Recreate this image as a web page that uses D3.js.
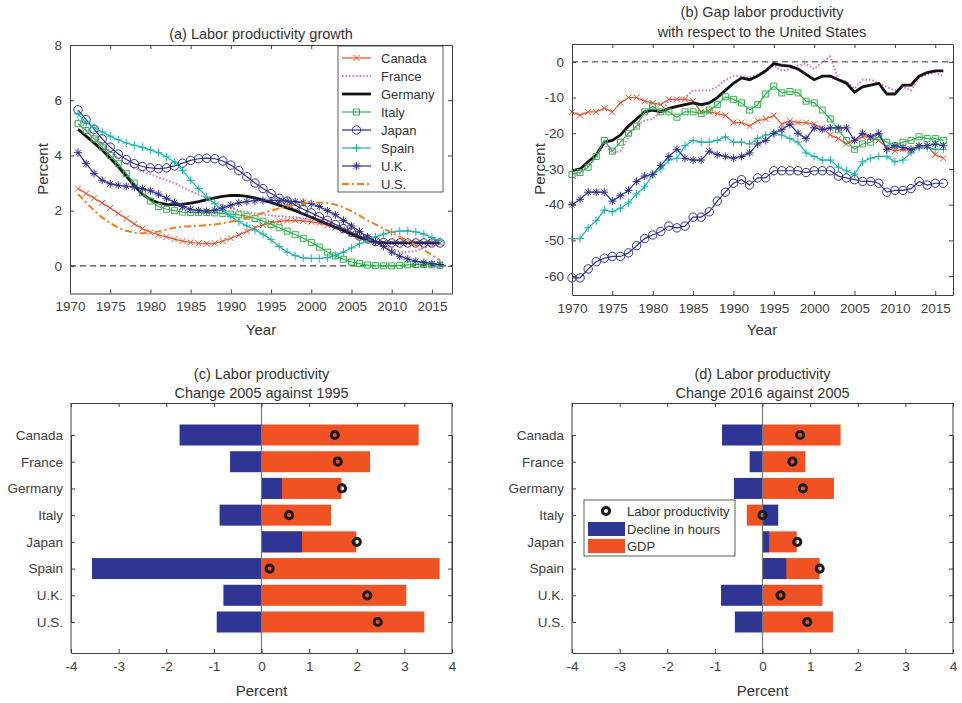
<!DOCTYPE html>
<html><head><meta charset="utf-8">
<script src="https://cdn.jsdelivr.net/npm/d3@7"></script>
<style>
body{margin:0;background:#fff;font-family:"Liberation Sans",Arial,sans-serif;}
text{font-family:"Liberation Sans",Arial,sans-serif;fill:#333;}
.tick text{font-size:13.5px;fill:#404040;}
.domain,.tick line{stroke:#404040;}
</style></head>
<body><svg id="c" width="962" height="703"></svg>
<script>
// ---- data ----
const years71 = d3.range(1971, 2017);
const years70 = d3.range(1970, 2017);
const countries = ["Canada","France","Germany","Italy","Japan","Spain","U.K.","U.S."];

// (a) labor productivity growth, 1971-2016
const growthCanada = [2.8,2.62,2.45,2.28,2.1,1.9,1.72,1.52,1.35,1.22,1.12,1.05,0.97,0.9,0.85,0.82,0.8,0.82,0.9,1.0,1.12,1.25,1.38,1.48,1.56,1.61,1.64,1.65,1.63,1.6,1.55,1.47,1.38,1.28,1.17,1.06,0.96,0.89,0.85,0.83,0.83,0.83,0.83,0.83,0.83,0.83];
const growthFrance = [5.3,5.0,4.7,4.4,4.15,3.9,3.7,3.55,3.42,3.32,3.2,3.1,3.0,2.85,2.7,2.58,2.45,2.32,2.2,2.1,2.0,1.95,1.9,1.86,1.83,1.8,1.78,1.76,1.73,1.7,1.65,1.58,1.5,1.4,1.28,1.15,1.0,0.85,0.72,0.6,0.52,0.5,0.55,0.65,0.75,0.85];
const growthGermany = [4.95,4.7,4.45,4.2,3.9,3.6,3.25,2.9,2.6,2.4,2.28,2.23,2.22,2.23,2.27,2.33,2.4,2.46,2.52,2.55,2.55,2.52,2.46,2.38,2.3,2.2,2.1,2.0,1.88,1.76,1.64,1.52,1.4,1.28,1.15,1.03,0.93,0.86,0.84,0.83,0.83,0.83,0.83,0.83,0.83,0.83];
const growthItaly = [5.15,4.9,4.6,4.3,4.0,3.7,3.35,3.0,2.65,2.35,2.15,2.05,2.0,1.95,1.93,1.93,1.93,1.92,1.9,1.88,1.85,1.8,1.72,1.62,1.5,1.38,1.26,1.13,1.0,0.85,0.68,0.5,0.36,0.24,0.14,0.08,0.03,0.01,0.0,0.0,0.02,0.04,0.05,0.05,0.04,0.02];
const growthJapan = [5.65,5.3,4.95,4.6,4.3,4.05,3.85,3.7,3.6,3.55,3.52,3.55,3.62,3.72,3.82,3.88,3.9,3.88,3.8,3.65,3.45,3.23,3.0,2.8,2.62,2.45,2.35,2.2,2.05,1.92,1.78,1.65,1.5,1.35,1.22,1.08,0.97,0.88,0.84,0.83,0.83,0.83,0.83,0.83,0.83,0.83];
const growthSpain = [5.5,5.2,5.0,4.85,4.7,4.57,4.45,4.37,4.3,4.2,4.1,3.95,3.75,3.45,3.1,2.8,2.5,2.25,2.0,1.8,1.6,1.45,1.3,1.15,0.95,0.7,0.5,0.37,0.29,0.27,0.27,0.3,0.38,0.5,0.65,0.8,0.93,1.05,1.15,1.22,1.26,1.27,1.23,1.15,1.03,0.9];
const growthUK = [4.1,3.7,3.35,3.1,2.97,2.92,2.88,2.85,2.8,2.72,2.6,2.45,2.3,2.15,2.05,2.0,1.98,2.02,2.1,2.2,2.28,2.33,2.36,2.37,2.37,2.36,2.35,2.33,2.3,2.25,2.15,2.0,1.85,1.65,1.45,1.25,1.05,0.88,0.7,0.5,0.35,0.25,0.17,0.12,0.08,0.05];
const growthUS = [2.6,2.3,2.0,1.75,1.55,1.38,1.27,1.2,1.18,1.2,1.25,1.32,1.38,1.42,1.44,1.45,1.47,1.5,1.55,1.6,1.67,1.75,1.83,1.92,2.0,2.08,2.15,2.22,2.27,2.3,2.3,2.28,2.22,2.12,1.98,1.82,1.65,1.5,1.35,1.2,1.05,0.9,0.75,0.58,0.4,0.2];

// (b) gap with respect to the U.S., 1970-2016
const gapCanada = [-14,-15,-14,-14,-13,-14,-11.5,-10,-10,-11,-11.5,-12,-10.5,-10.5,-10.5,-11,-14,-14,-14.5,-15,-17,-17,-18,-16.5,-16,-15,-17.5,-16.5,-17,-17,-17.5,-18.5,-20.5,-21.5,-23,-22,-21,-21,-22,-24,-25,-24.5,-25,-23.5,-23.5,-26,-27];
const gapFrance = [-33.5,-31,-29,-27,-23,-25.5,-25,-21,-18,-16.5,-16,-14,-11,-10.5,-10,-8,-8,-8,-7,-5,-4,-4,-4.5,-3.5,-2.5,-1,-2.5,-2,-1,-0.5,-2,0,1.5,-5,-5.5,-7.5,-5,-5,-6,-7,-8,-7,-8,-4.5,-3.5,-3,-4];
const gapGermany = [-30.5,-30,-28,-26,-22.5,-22,-20.5,-18,-16,-14,-13.5,-14,-13,-12.5,-12,-11.5,-12,-11.5,-10,-8,-6,-4.5,-5,-4,-2.5,-0.5,-1,-1.2,-2,-3.5,-5,-4,-4,-5,-6,-8.5,-7,-6.5,-6,-9,-9,-6.5,-6.5,-4,-3,-2.5,-2.5];
const gapItaly = [-31.5,-31,-29.5,-26.5,-22,-25,-22.5,-20,-18,-14,-12.5,-14,-14,-15.5,-14,-14,-14.5,-13.5,-12,-9.8,-10.5,-11.5,-13.5,-12,-9,-6.8,-8.7,-8.3,-8.7,-11,-11.5,-13.5,-16,-19,-22,-24.5,-23,-22.5,-21,-22.5,-23.5,-22.5,-22,-21,-21.5,-21.5,-22];
const gapJapan = [-60.5,-60.5,-58,-56,-55,-54.5,-54.5,-53.5,-51.5,-49.5,-48.5,-47.5,-46,-46.5,-46,-43.5,-43.5,-42,-39,-36.5,-34,-33,-34.5,-32.5,-32.5,-30.5,-30.5,-30.5,-30.5,-31,-30.5,-30.5,-30.5,-32,-32.5,-33,-33.5,-33.5,-34,-36.5,-36,-36,-35.5,-33.5,-34.5,-34,-34];
const gapSpain = [-49.5,-49.5,-46.5,-44.5,-41.5,-42,-41,-39.5,-37,-35,-31.5,-30,-27.5,-27,-23.5,-22,-22.5,-22.5,-22,-21,-22.5,-22.5,-23,-21.5,-20.5,-20,-20.5,-21.5,-22.5,-25.5,-26.5,-27.5,-27.5,-29.5,-30.5,-31.5,-28,-27,-26.5,-26.5,-28,-27.5,-25.5,-24,-24,-24.5,-24.5];
const gapUK = [-40,-38.5,-36.5,-36.5,-36.5,-39,-37.5,-36,-33.5,-32,-31.5,-29,-26.5,-24.5,-27,-27.5,-27.5,-25,-26,-26.5,-27,-26.5,-25.5,-23,-22,-20,-19,-17.5,-20,-21.5,-18.5,-19,-18.5,-18.5,-18.5,-22,-20,-21,-20,-24.5,-23.5,-24,-24.5,-23.5,-23.5,-23,-23.5];

// (c) 2005 vs 1995, (d) 2016 vs 2005
const hoursC = [-1.72,-0.66,0.43,-0.88,0.85,-3.56,-0.8,-0.94];
const gdpC = [3.3,2.28,1.68,1.46,1.99,3.74,3.04,3.42];
const lpC = [1.54,1.6,1.69,0.58,2.0,0.17,2.22,2.44];
const hoursD = [-0.85,-0.27,-0.6,0.33,0.14,0.5,-0.87,-0.58];
const gdpD = [1.64,0.9,1.5,-0.33,0.72,1.2,1.26,1.48];
const lpD = [0.79,0.63,0.85,0.0,0.73,1.2,0.38,0.94];

const svg = d3.select("#c");
const BLUE = "#2e3592", ORANGE = "#f05223";
const plain = d => String(d);   // hyphen minus, like the original

function frame(g, x, y, xt, yt){
  const [x0,x1] = x.range(), [y0,y1] = y.range();
  g.append("g").attr("transform",`translate(0,${y0})`).call(d3.axisBottom(x).tickValues(xt).tickFormat(plain).tickSizeInner(-4).tickSizeOuter(0).tickPadding(8));
  g.append("g").attr("transform",`translate(0,${y1})`).call(d3.axisTop(x).tickValues(xt).tickFormat("").tickSizeInner(-4).tickSizeOuter(0));
  g.append("g").attr("transform",`translate(${x0},0)`).call(d3.axisLeft(y).tickValues(yt).tickFormat(plain).tickSizeInner(-4).tickSizeOuter(0).tickPadding(8));
  g.append("g").attr("transform",`translate(${x1},0)`).call(d3.axisRight(y).tickValues(yt).tickFormat("").tickSizeInner(-4).tickSizeOuter(0));
}

function marker(type, r){
  if(type==="x") return `M${-r},${-r}L${r},${r}M${-r},${r}L${r},${-r}`;
  if(type==="+") return `M${-r},0L${r},0M0,${-r}L0,${r}`;
  if(type==="*") { const a=r*0.7; return `M${-r},0L${r},0M0,${-r}L0,${r}M${-a},${-a}L${a},${a}M${-a},${a}L${a},${-a}`; }
  if(type==="s") return `M${-r},${-r}H${r}V${r}H${-r}Z`;
  if(type==="o") return `M${r},0A${r},${r} 0 1 1 ${-r},0A${r},${r} 0 1 1 ${r},0Z`;
  return "";
}

const series = [
  {name:"Canada", color:"#f0502a", w:1.2, dash:null, m:"x", a:growthCanada, b:gapCanada},
  {name:"France", color:"#dd6fbd", w:2, dash:"1.5,2", m:null, a:growthFrance, b:gapFrance},
  {name:"Germany", color:"#111", w:2.8, dash:null, m:null, a:growthGermany, b:gapGermany},
  {name:"Italy", color:"#2fb24a", w:1.2, dash:null, m:"s", a:growthItaly, b:gapItaly},
  {name:"Japan", color:"#2e3192", w:1.2, dash:null, m:"o", a:growthJapan, b:gapJapan},
  {name:"Spain", color:"#19b3ad", w:1.2, dash:null, m:"+", a:growthSpain, b:gapSpain},
  {name:"U.K.", color:"#2e3192", w:1.2, dash:null, m:"*", a:growthUK, b:gapUK},
  {name:"U.S.", color:"#f47b20", w:2, dash:"7,3,2,3", m:null, a:growthUS, b:null}
];
const msize = {x:3, "+":4, "*":4, s:3, o:4.2};

function lineChart(g, x, y, yearsArr, key){
  series.forEach(s=>{
    const vals = s[key]; if(!vals) return;
    const pts = vals.map((v,i)=>[yearsArr[i], v]);
    g.append("path").attr("d", d3.line().x(d=>x(d[0])).y(d=>y(d[1]))(pts))
      .attr("fill","none").attr("stroke",s.color).attr("stroke-width",s.w)
      .attr("stroke-dasharray",s.dash);
    if(s.m){
      g.selectAll(null).data(pts).enter().append("path")
        .attr("transform",d=>`translate(${x(d[0])},${y(d[1])})`)
        .attr("d",marker(s.m,msize[s.m])).attr("fill","none").attr("stroke",s.color).attr("stroke-width",1);
    }
  });
}

const yearTicks = d3.range(1970, 2016, 5);

// ---- (a) ----
{
  const g = svg.append("g");
  const x = d3.scaleLinear().domain([1970,2017.5]).range([70,452]);
  const y = d3.scaleLinear().domain([-1,8]).range([293.5,45]);
  g.append("line").attr("x1",x(1970)).attr("x2",x(2017.5)).attr("y1",y(0)).attr("y2",y(0)).attr("stroke","#111").attr("stroke-dasharray","6,4");
  lineChart(g, x, y, years71, "a");
  frame(g, x, y, yearTicks, d3.range(0,9,2));
  g.append("text").attr("x",261).attr("y",39).attr("text-anchor","middle").style("font-size","14.5px").text("(a) Labor productivity growth");
  g.append("text").attr("x",261).attr("y",335).attr("text-anchor","middle").style("font-size","15px").text("Year");
  g.append("text").attr("transform","translate(48,169)rotate(-90)").attr("text-anchor","middle").style("font-size","15px").text("Percent");
  // legend
  const lg = g.append("g");
  lg.append("rect").attr("x",338).attr("y",46).attr("width",105).attr("height",146).attr("fill","#fff").attr("stroke","#333").attr("stroke-width",0.8);
  series.forEach((s,i)=>{
    const ly = 58 + i*18;
    lg.append("line").attr("x1",342).attr("x2",371).attr("y1",ly).attr("y2",ly).attr("stroke",s.color).attr("stroke-width",s.w).attr("stroke-dasharray",s.dash);
    if(s.m) lg.append("path").attr("transform",`translate(356.5,${ly})`).attr("d",marker(s.m,msize[s.m])).attr("fill","none").attr("stroke",s.color);
    lg.append("text").attr("x",381).attr("y",ly+4.5).style("font-size","13px").text(s.name);
  });
}

// ---- (b) ----
{
  const g = svg.append("g");
  const x = d3.scaleLinear().domain([1970,2017.2]).range([572,953]);
  const y = d3.scaleLinear().domain([-65.3,5]).range([295,44]);
  g.append("line").attr("x1",x(1970)).attr("x2",x(2017.2)).attr("y1",y(0)).attr("y2",y(0)).attr("stroke","#333").attr("stroke-dasharray","6,4");
  lineChart(g, x, y, years70, "b");
  frame(g, x, y, yearTicks, d3.range(-60,1,10));
  g.append("text").attr("x",762).attr("y",17).attr("text-anchor","middle").style("font-size","14.5px").text("(b) Gap labor productivity");
  g.append("text").attr("x",762).attr("y",37).attr("text-anchor","middle").style("font-size","14.5px").text("with respect to the United States");
  g.append("text").attr("x",762).attr("y",335).attr("text-anchor","middle").style("font-size","15px").text("Year");
  g.append("text").attr("transform","translate(545,169)rotate(-90)").attr("text-anchor","middle").style("font-size","15px").text("Percent");
}

// ---- (c), (d) ----
function barChart(tag, left, right, hours, gdp, lp, title2, legend){
  const g = svg.append("g");
  const x = d3.scaleLinear().domain([-4,4]).range([left,right]);
  const y = d3.scalePoint().domain(countries).range([435,622]);
  const bh = 21;
  g.selectAll(".gdp").data(countries).enter().append("rect")
    .attr("x",(d,i)=>x(Math.min(0,gdp[i]))).attr("width",(d,i)=>Math.abs(x(gdp[i])-x(0)))
    .attr("y",d=>y(d)-bh/2).attr("height",bh).attr("fill",ORANGE);
  g.selectAll(".hrs").data(countries).enter().append("rect")
    .attr("x",(d,i)=>x(Math.min(0,hours[i]))).attr("width",(d,i)=>Math.abs(x(hours[i])-x(0)))
    .attr("y",d=>y(d)-bh/2).attr("height",bh).attr("fill",BLUE);
  g.append("line").attr("x1",x(0)).attr("x2",x(0)).attr("y1",403).attr("y2",653).attr("stroke","#777").attr("stroke-width",1.2);
  g.selectAll(".lp").data(countries).enter().append("circle")
    .attr("cx",(d,i)=>x(lp[i])).attr("cy",d=>y(d)).attr("r",3.6)
    .attr("fill","none").attr("stroke","#1a1a1a").attr("stroke-width",3);
  const xt = d3.range(-4,5,1);
  g.append("g").attr("transform","translate(0,653)").call(d3.axisBottom(x).tickValues(xt).tickFormat(plain).tickSizeInner(-4).tickSizeOuter(0).tickPadding(8));
  g.append("g").attr("transform","translate(0,403)").call(d3.axisTop(x).tickValues(xt).tickFormat("").tickSizeInner(-4).tickSizeOuter(0));
  g.append("g").attr("transform",`translate(${left},0)`).call(d3.axisLeft(y).tickSizeInner(-4).tickSizeOuter(0).tickPadding(8));
  g.append("g").attr("transform",`translate(${right},0)`).call(d3.axisRight(y).tickFormat("").tickSizeInner(-4).tickSizeOuter(0));
  g.append("line").attr("x1",left).attr("x2",left).attr("y1",403).attr("y2",653).attr("stroke","#404040");
  g.append("line").attr("x1",right).attr("x2",right).attr("y1",403).attr("y2",653).attr("stroke","#404040");
  g.append("text").attr("x",x(0)).attr("y",379).attr("text-anchor","middle").style("font-size","14.5px").text("(" + tag + ") Labor productivity");
  g.append("text").attr("x",x(0)).attr("y",398).attr("text-anchor","middle").style("font-size","14.5px").text(title2);
  g.append("text").attr("x",x(0)).attr("y",696).attr("text-anchor","middle").style("font-size","15px").text("Percent");
  if(legend){
    const lg = g.append("g");
    lg.append("rect").attr("x",584).attr("y",500).attr("width",151).attr("height",56).attr("fill","#fff").attr("stroke","#333").attr("stroke-width",0.8);
    lg.append("circle").attr("cx",606).attr("cy",511).attr("r",3.6).attr("fill","none").attr("stroke","#1a1a1a").attr("stroke-width",3);
    lg.append("rect").attr("x",588).attr("y",522).attr("width",37).attr("height",14).attr("fill",BLUE);
    lg.append("rect").attr("x",588).attr("y",539).attr("width",37).attr("height",14).attr("fill",ORANGE);
    [["Labor productivity",516],["Decline in hours",534],["GDP",551]].forEach(t=>
      lg.append("text").attr("x",627).attr("y",t[1]).style("font-size","13px").text(t[0]));
  }
}
barChart("c", 71, 452, hoursC, gdpC, lpC, "Change 2005 against 1995", false);
barChart("d", 572, 953, hoursD, gdpD, lpD, "Change 2016 against 2005", true);
</script></body></html>
